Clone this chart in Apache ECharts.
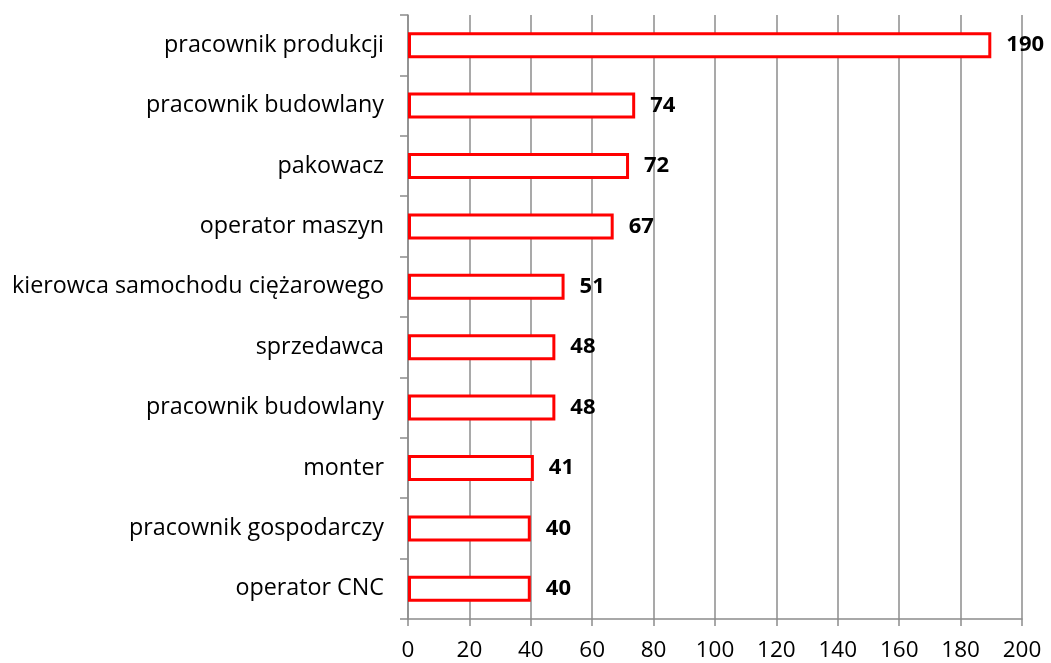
<!DOCTYPE html>
<html>
<head>
<meta charset="utf-8">
<script src="https://cdn.jsdelivr.net/npm/echarts@6/dist/echarts.min.js"></script>
<style>
  html, body { margin: 0; padding: 0; background: #fff; }
  #chart { width: 1051px; height: 663px; }
</style>
</head>
<body>
<div id="chart"></div>
<script>
// categories listed top to bottom, as in the picture
const categories = [
  'pracownik produkcji',
  'pracownik budowlany',
  'pakowacz',
  'operator maszyn',
  'kierowca samochodu ciężarowego',
  'sprzedawca',
  'pracownik budowlany',
  'monter',
  'pracownik gospodarczy',
  'operator CNC'
]
const values = [190, 74, 72, 67, 51, 48, 48, 41, 40, 40]
const xTicks = [0, 20, 40, 60, 80, 100, 120, 140, 160, 180, 200]

const font = 'Open Sans, Noto Sans, sans-serif'
const chart = echarts.init(document.getElementById('chart'))

chart.setOption({
  animation: false,
  grid: {
    left: 408,
    right: 29,
    top: 15,
    bottom: 44
  },
  xAxis: {
    type: 'value',
    min: xTicks[0],
    max: xTicks[xTicks.length - 1],
    interval: 20,
    axisLine: { show: true, lineStyle: { color: '#8c8c8c', width: 1.5 } },
    axisTick: { show: true, length: 7, lineStyle: { color: '#8c8c8c', width: 1.5 } },
    axisLabel: { color: '#000', fontSize: 22.5, fontFamily: font, margin: 20 },
    splitLine: { show: true, lineStyle: { color: '#8c8c8c', width: 1.5 } }
  },
  yAxis: {
    type: 'category',
    data: categories,
    inverse: true,
    axisLine: { show: true, lineStyle: { color: '#8c8c8c', width: 1.5 } },
    axisTick: { show: true, length: 8, lineStyle: { color: '#8c8c8c', width: 1.5 } },
    axisLabel: { color: '#000', fontSize: 23.3, fontFamily: font, margin: 24 }
  },
  series: [
    {
      type: 'bar',
      data: values,
      barWidth: 26,
      itemStyle: {
        color: '#fff',
        borderColor: '#ff0000',
        borderWidth: 3
      },
      label: {
        show: true,
        position: 'right',
        distance: 15,
        color: '#000',
        fontSize: 22,
        fontWeight: 'bold',
        fontFamily: font
      }
    }
  ]
})
</script>
</body>
</html>
